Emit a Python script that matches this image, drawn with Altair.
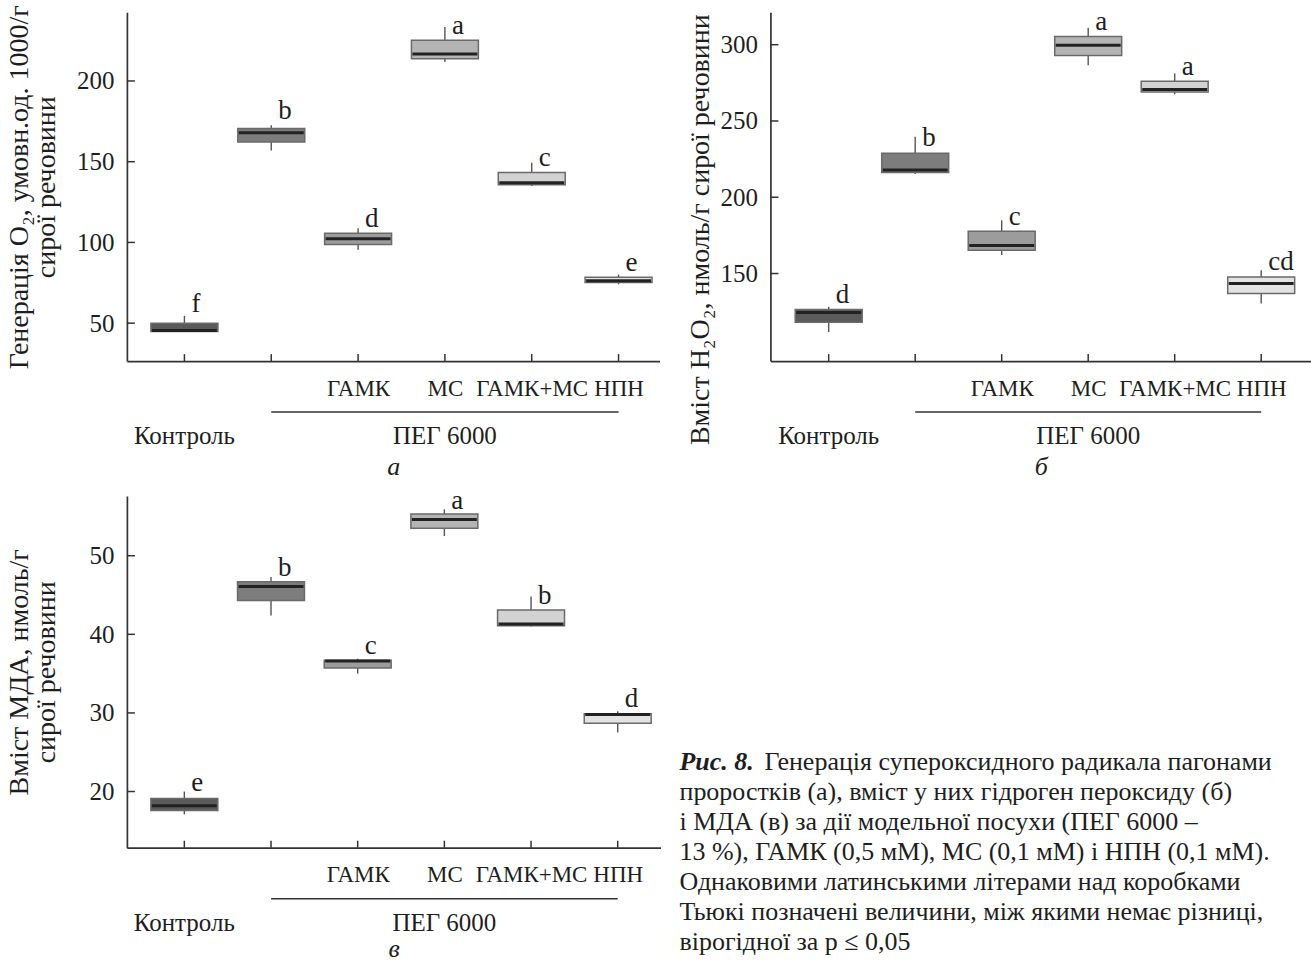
import json
import altair as alt
import pandas as pd

FONT = "Liberation Serif"
INK = "#1e1e1e"
AXIS = "#333333"

group_idx = [0, 1, 2, 3, 4, 5]
tick_names = ["", "", "ГАМК", "МС", "ГАМК+МС", "НПН"]
group_labels = ["Контроль", "ПЕГ 6000"]
group_label_pos = [0, 3]
peg_span = [1, 5]
box_fills = ["#5a5a5a", "#7d7d7d", "#9c9c9c", "#b4b4b4", "#d2d2d2", "#e3e3e3"]

# Panel a: O2 generation
a_min = [44.8, 156.9, 95.4, 211.7, 135.0, 74.1]
a_q1 = [44.8, 162.2, 98.7, 213.8, 135.8, 75.2]
a_med = [45.5, 168.0, 102.2, 216.7, 136.9, 76.2]
a_q3 = [50.0, 170.5, 105.7, 225.2, 143.3, 78.5]
a_max = [54.5, 172.5, 108.8, 233.4, 149.4, 80.1]
a_letters = ["f", "b", "d", "a", "c", "e"]
a_letter_y = [56.8, 176.3, 109.4, 228.9, 147.4, 82.4]
a_ticks = [50, 100, 150, 200]

# Panel b: H2O2 content
b_min = [111.6, 215.2, 162.2, 286.5, 267.5, 130.4]
b_q1 = [118.0, 216.3, 165.3, 293.0, 269.0, 136.9]
b_med = [124.5, 217.8, 168.3, 299.6, 270.6, 143.5]
b_q3 = [126.5, 228.9, 177.7, 305.4, 276.0, 147.8]
b_max = [128.2, 239.6, 184.9, 311.1, 281.2, 152.2]
b_letters = ["d", "b", "c", "a", "a", "cd"]
b_letter_y = [130.8, 233.4, 182.1, 309.4, 280.3, 152.6]
b_ticks = [150, 200, 250, 300]

# Panel c: MDA content
c_min = [17.1, 42.4, 35.0, 52.5, 41.0, 27.5]
c_q1 = [17.6, 44.3, 35.7, 53.5, 41.1, 28.7]
c_med = [18.2, 46.1, 36.6, 54.6, 41.3, 29.8]
c_q3 = [19.1, 46.7, 36.7, 55.3, 43.1, 29.9]
c_max = [20.0, 47.3, 36.9, 55.9, 44.8, 30.2]
c_letters = ["e", "b", "c", "a", "b", "d"]
c_letter_y = [20.1, 47.4, 37.5, 55.9, 43.8, 30.7]
c_ticks = [20, 30, 40, 50]

caption_prefix = "Рис. 8."
caption_lines = [
    "Генерація супероксидного радикала пагонами",
    "проростків (а), вміст у них гідроген пероксиду (б)",
    "і МДА (в) за дії модельної посухи (ПЕГ 6000 –",
    "13 %), ГАМК (0,5 мМ), МС (0,1 мМ) і НПН (0,1 мМ).",
    "Однаковими латинськими літерами над коробками",
    "Тьюкі позначені величини, між якими немає різниці,",
    "вірогідної за p ≤ 0,05",
]


def panel(mins, q1, med, q3, maxs, letters, letter_y, yticks, ydom, xdom,
          ytitle, xtitle, w, h, title_x, x_title_pad, title_y=None):
    df = pd.DataFrame(dict(idx=group_idx, lo=mins, q1=q1, med=med, q3=q3,
                           hi=maxs, letter=letters, ly=letter_y, fill=box_fills))
    xs = alt.Scale(domain=xdom, nice=False, zero=False)
    ys = alt.Scale(domain=ydom, nice=False, zero=False)
    label_expr = "%s[datum.value]" % json.dumps(tick_names, ensure_ascii=False)
    xaxis = alt.Axis(values=group_idx, labelExpr=label_expr, ticks=False,
                     labelPadding=16, labelOverlap=False, labelFontSize=23,
                     labelFont=FONT, labelColor=INK, domainColor=AXIS,
                     domainWidth=1.7, grid=False, title=xtitle, titleFont=FONT,
                     titleFontSize=26, titleFontStyle="italic",
                     titleFontWeight="normal", titlePadding=x_title_pad,
                     titleColor=INK)
    ykw = dict(values=yticks, ticks=False, labelPadding=13, labelFontSize=25,
               labelFont=FONT, labelColor=INK, domainColor=AXIS, domainWidth=1.7,
               grid=False, title=ytitle, titleFont=FONT, titleFontSize=28,
               titleFontWeight="normal", titleColor=INK, titleX=title_x,
               titleLineHeight=27)
    if title_y is not None:
        ykw["titleY"] = title_y
    yaxis = alt.Axis(**ykw)

    def X(f):
        return alt.X(f, scale=xs, axis=xaxis)

    def Y(f):
        return alt.Y(f, scale=ys, axis=yaxis)

    base = alt.Chart(df)
    whisk = base.mark_rule(color="#555555", strokeWidth=1.4).encode(
        x=X("idx:Q"), y=Y("lo:Q"), y2="hi:Q",
    )
    box = base.mark_bar(size=67, stroke="#6a6a6a", strokeWidth=1.5).encode(
        x=X("idx:Q"), y=Y("q1:Q"), y2="q3:Q",
        fill=alt.Fill("fill:N", scale=None),
    )
    median = base.mark_tick(orient="horizontal", size=65, thickness=3,
                            color="#222222", opacity=1).encode(
        x=X("idx:Q"), y=Y("med:Q"),
    )
    letters_l = base.mark_text(align="left", baseline="alphabetic", dx=7,
                               fontSize=27, font=FONT, color=INK).encode(
        x=X("idx:Q"), y=Y("ly:Q"), text="letter:N",
    )
    yt = alt.Chart(pd.DataFrame({"v": yticks})).mark_rule(
        color=AXIS, strokeWidth=1.5).encode(
        y=Y("v:Q"), x=alt.value(0), x2=alt.value(8),
    )
    xt = base.mark_rule(color=AXIS, strokeWidth=1.5).encode(
        x=X("idx:Q"), y=alt.value(h - 7), y2=alt.value(h),
    )
    gline = alt.Chart(pd.DataFrame({"s": [peg_span[0]], "e": [peg_span[1]]})).mark_rule(
        color=AXIS, strokeWidth=1.5).encode(
        x=X("s:Q"), x2="e:Q", y=alt.value(h + 51),
    )
    gtext = alt.Chart(pd.DataFrame({"p": group_label_pos, "t": group_labels})).mark_text(
        align="center", baseline="alphabetic", fontSize=25, font=FONT, color=INK).encode(
        x=X("p:Q"), y=alt.value(h + 83), text="t:N",
    )
    return alt.layer(whisk, box, median, letters_l, yt, xt, gline, gtext).properties(
        width=w, height=h)


pa = panel(a_min, a_q1, a_med, a_q3, a_max, a_letters, a_letter_y, a_ticks,
           [26.5, 242.5], [-0.605, 5.414],
           ["Генерація O₂, умовн.од. 1000/г", "сирої речовини"], "а",
           533, 349, -93, 53)
pb = panel(b_min, b_q1, b_med, b_q3, b_max, b_letters, b_letter_y, b_ticks,
           [92.6, 321.2], [-0.616, 5.518],
           "Вміст H₂O₂, нмоль/г сирої речовини", "б",
           541, 349, -56, 53, 217)
pc = panel(c_min, c_q1, c_med, c_q3, c_max, c_letters, c_letter_y, c_ticks,
           [12.85, 57.6], [-0.605, 5.436],
           ["Вміст МДА, нмоль/г", "сирої речовини"], "в",
           534, 352, -93, 49)

cap_df = pd.DataFrame({"i": list(range(len(caption_lines))), "t": caption_lines})
cap_y = alt.Y("i:Q", scale=alt.Scale(domain=[-9.076, 6.172], reverse=True), axis=None)
cap_base = alt.Chart(cap_df)
cap_rest = cap_base.transform_filter("datum.i > 0").mark_text(
    align="left", baseline="alphabetic", fontSize=26, font=FONT, color=INK).encode(
    x=alt.value(-91), y=cap_y, text="t:N")
cap_first = cap_base.transform_filter("datum.i == 0").mark_text(
    align="left", baseline="alphabetic", fontSize=26, font=FONT, color=INK, dx=85).encode(
    x=alt.value(-91), y=cap_y, text="t:N")
cap_pre = cap_base.transform_filter("datum.i == 0").mark_text(
    align="left", baseline="alphabetic", fontSize=26, font=FONT, color=INK,
    fontStyle="italic", fontWeight="bold").encode(
    x=alt.value(-91), y=cap_y, text=alt.value(caption_prefix))
cap = alt.layer(cap_rest, cap_first, cap_pre).properties(width=530, height=460)

chart = alt.concat(pa, pb, pc, cap, columns=2, bounds="flush",
                   spacing={"row": 135, "column": 110}).properties(
    padding={"left": 5, "top": 4, "right": 0, "bottom": 0}
).configure(background="white").configure_view(strokeWidth=0, stroke="transparent")

chart.save("out.html", embed_options={"renderer": "svg", "actions": False})
